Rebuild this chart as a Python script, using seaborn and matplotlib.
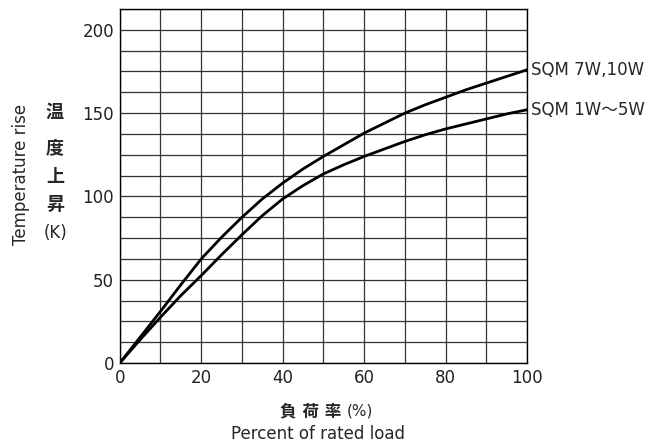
import numpy as np
import pandas as pd
import seaborn as sns
import matplotlib.pyplot as plt
from matplotlib.ticker import MultipleLocator

# values
load = [0, 5, 10, 15, 20, 25, 30, 35, 40, 45, 50, 55, 60, 65, 70, 75, 80, 85, 90, 95, 100]
rise_7w_10w = [0, 15.5, 31, 47, 62.5, 75.5, 87.5, 98.5, 108, 116.5, 124, 131, 138, 144, 150,
               155, 159.5, 164, 168, 172, 176]
rise_1w_5w = [0, 14, 27.5, 40.5, 52.5, 65, 77, 88.5, 98.5, 106.5, 113.5, 119, 124, 128.5, 133,
              137, 140.5, 143.5, 146.5, 149.5, 152]
series_names = ['SQM 7W,10W', 'SQM 1W～5W']

df = pd.DataFrame({
    'load': load * 2,
    'rise': rise_7w_10w + rise_1w_5w,
    'series': [series_names[0]] * len(load) + [series_names[1]] * len(load),
})

sns.set_style("white")
plt.rcParams['font.family'] = ['DejaVu Sans', 'Noto Sans CJK JP']

fig = plt.figure(figsize=(6.69, 4.46), dpi=100)
ax = fig.add_axes([0.179, 0.186, 0.609, 0.794])

sns.lineplot(data=df, x='load', y='rise', hue='series', palette=['black', 'black'],
             linewidth=2.0, legend=False, ax=ax)

ax.set_xlim(0, 100)
ax.set_ylim(0, 212.5)
ax.xaxis.set_major_locator(MultipleLocator(20))
ax.xaxis.set_minor_locator(MultipleLocator(10))
ax.yaxis.set_major_locator(MultipleLocator(50))
ax.yaxis.set_minor_locator(MultipleLocator(12.5))
ax.grid(which='both', color='#333333', linewidth=0.9)
ax.tick_params(which='both', length=0, labelsize=12, colors='#222222')
ax.tick_params(axis='y', pad=4)
ax.tick_params(axis='x', pad=4)
for s in ax.spines.values():
    s.set_color('black')
    s.set_linewidth(1.0)

ax.set_xlabel('')
ax.set_ylabel('')

# curve labels at the right end
ax.text(101, rise_7w_10w[-1], series_names[0], fontsize=12, va='center', ha='left', clip_on=False)
ax.text(101, rise_1w_5w[-1], series_names[1], fontsize=12, va='center', ha='left', clip_on=False)

# axis titles
fig.text(21 / 669, 1 - 174 / 446, 'Temperature rise', rotation=90, fontsize=12,
         ha='center', va='center')
for ch, yp in zip(['温', '度', '上', '昇'], [113, 148, 177, 205]):
    fig.text(55 / 669, 1 - yp / 446, ch, fontsize=13, ha='center', va='center', fontweight='bold')
fig.text(55 / 669, 1 - 233 / 446, '(K)', fontsize=12, ha='center', va='center')
fig.text(341 / 669, 1 - 411 / 446, '負 荷 率', fontsize=12, ha='right', va='center',
         fontweight='bold')
fig.text(347 / 669, 1 - 411 / 446, '(%)', fontsize=11, ha='left', va='center')
fig.text(318 / 669, 1 - 434 / 446, 'Percent of rated load', fontsize=12, ha='center', va='center')

fig.savefig('out.png', dpi=100)
